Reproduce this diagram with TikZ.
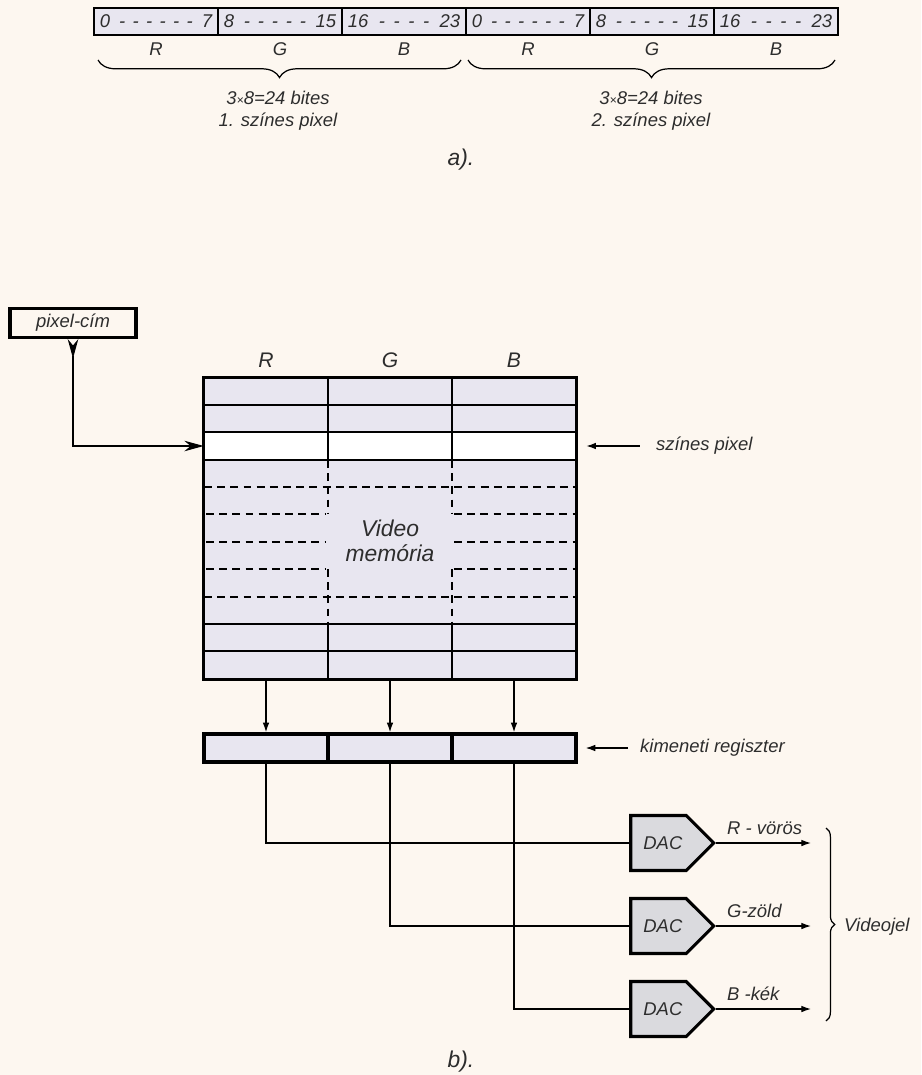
\documentclass[tikz,border=0pt]{standalone}
\usepackage{fontspec}
\setmainfont{Liberation Sans}
\usetikzlibrary{arrows.meta,positioning,shapes.symbols,decorations.pathreplacing,calc}
\definecolor{paperbg}{RGB}{253,247,240}
\definecolor{cellfill}{RGB}{232,230,240}
\definecolor{dacfill}{RGB}{218,218,222}
\definecolor{txtgray}{RGB}{45,45,45}
\newcommand{\bitspan}[2]{\hbox to 2.25cm{#1\ \xleaders\hbox to 7.2pt{\hss-\hss}\hfill\ #2}}

\begin{document}
\begin{tikzpicture}[x=0.02cm, y=-0.02cm,
    every node/.style={font=\itshape\fontsize{10.5}{12.5}\selectfont, text=txtgray},
    bitcell/.style={draw, line width=1.3pt, fill=cellfill, minimum width=2.48cm, minimum height=0.54cm, inner sep=1pt},
    regcell/.style={draw, line width=2pt, fill=cellfill, minimum width=2.48cm, minimum height=0.56cm},
    memcol/.style={minimum width=2.48cm, minimum height=6.02cm, inner sep=0pt},
    dac/.style={signal, signal to=east, signal pointer angle=90, draw, line width=1.8pt, fill=dacfill,
                minimum width=1.66cm, minimum height=1.1cm, inner sep=1pt},
    gridline/.style={line width=1pt},
    dashline/.style={line width=1pt, dash pattern=on 4.5pt off 3pt},
    wire/.style={line width=0.7pt},
    arr/.style={line width=0.7pt, -{Latex[length=5.5pt,width=3.8pt]}},
    bigtext/.style={font=\itshape\fontsize{13}{14}\selectfont}]
  \fill[paperbg] (0,0) rectangle (921,1075);
  \useasboundingbox (0,0) rectangle (921,1075);

  % a) ket pixel bitjei
  \node[bitcell] (c1) at (156,21.5) {\bitspan{0}{7}};
  \node[bitcell] (c2) at (280,21.5) {\bitspan{8}{15}};
  \node[bitcell] (c3) at (404,21.5) {\bitspan{16}{23}};
  \node[bitcell] (c4) at (528,21.5) {\bitspan{0}{7}};
  \node[bitcell] (c5) at (652,21.5) {\bitspan{8}{15}};
  \node[bitcell] (c6) at (776,21.5) {\bitspan{16}{23}};
  \foreach \n/\l in {1/R,2/G,3/B,4/R,5/G,6/B}
    \node[below=0pt of c\n] (l\n) {\l};

  \draw[wire,decorate,decoration={brace,mirror,amplitude=10pt}] (98,60) -- (461,60);
  \draw[wire,decorate,decoration={brace,mirror,amplitude=10pt}] (468,60) -- (835,60);
  \node[align=center] (bits1) at (278,111) {3{\scriptsize ×}8=24 bites\\1. színes pixel};
  \node[align=center] (bits2) at (651,111) {3{\scriptsize ×}8=24 bites\\2. színes pixel};
  \node[bigtext] (capa) at (461,160) {a).};

  % b) video memoria
  \node[draw, line width=1.8pt, minimum width=2.52cm, minimum height=0.52cm] (pixcim) at (73,323) {pixel-cím};

  \node[memcol, fill=cellfill] (memR) at (266,528.5) {};
  \node[memcol, fill=cellfill] (memG) at (390,528.5) {};
  \node[memcol, fill=cellfill] (memB) at (514,528.5) {};
  \node[minimum width=7.44cm, minimum height=0.56cm, inner sep=0pt, fill=white] (selrow) at (390,446) {};
  \node[font=\itshape\fontsize{12}{14}\selectfont] (hR) at (266,360) {R};
  \node[font=\itshape\fontsize{12}{14}\selectfont] (hG) at (390,360) {G};
  \node[font=\itshape\fontsize{12}{14}\selectfont] (hB) at (514,360) {B};

  \foreach \y in {405,432,460,624,651}
    \draw[gridline] (204,\y) -- (576,\y);
  \foreach \y in {487,597}
    \draw[dashline] (204,\y) -- (576,\y);
  \foreach \y in {514,542,569} {
    \draw[dashline] (206,\y) -- (326,\y);
    \draw[dashline] (454,\y) -- (576,\y);
  }
  \foreach \x in {328,452} {
    \draw[gridline] (\x,378) -- (\x,460);
    \draw[gridline] (\x,624) -- (\x,679);
    \draw[dashline] (\x,460) -- (\x,514);
    \draw[dashline] (\x,569) -- (\x,624);
  }
  \draw[line width=2pt] (memR.north west) rectangle (memB.south east);
  \node[bigtext, align=center] (vmem) at (390,541) {Video\\memória};

  \draw[wire, {Stealth[reversed,length=11pt,width=6pt]}-{Stealth[length=11pt,width=6pt]}] (pixcim.south) |- (selrow.west);
  \node[anchor=west] (sellbl) at (650,446) {színes pixel};
  \draw[arr, shorten <=5.7pt, shorten >=5.7pt] (sellbl.west) -- (sellbl.west -| selrow.east);

  % kimeneti regiszter
  \node[regcell] (regR) at (266,748) {};
  \node[regcell] (regG) at (390,748) {};
  \node[regcell] (regB) at (514,748) {};
  \foreach \c in {R,G,B}
    \draw[arr] (mem\c.south) -- (reg\c.north);
  \node[anchor=west] (reglbl) at (634,748) {kimeneti regiszter};
  \draw[arr, shorten <=3.4pt, shorten >=4.5pt] (reglbl.west) -- (reglbl.west -| regB.east);

  % DAC-ok
  \node[dac] (dac1) at (658.5,843) {\hspace{5pt}DAC};
  \node[dac] (dac2) at (658.5,926) {\hspace{5pt}DAC};
  \node[dac] (dac3) at (658.5,1009) {\hspace{5pt}DAC};
  \draw[wire] (regR.south) |- (dac1.west);
  \draw[wire] (regG.south) |- (dac2.west);
  \draw[wire] (regB.south) |- (dac3.west);

  \coordinate (out1) at (811,843);
  \coordinate (out2) at (811,926);
  \coordinate (out3) at (811,1009);
  \draw[arr] (dac1.east) -- (out1) node[pos=0.05, anchor=south west, yshift=1pt] {R - vörös};
  \draw[arr] (dac2.east) -- (out2) node[pos=0.05, anchor=south west, yshift=1pt] {G-zöld};
  \draw[arr] (dac3.east) -- (out3) node[pos=0.05, anchor=south west, yshift=1pt] {B -kék};

  \draw[wire,decorate,decoration={brace,amplitude=5pt}] (826,828) -- (826,1021);
  \node[anchor=west] (vjel) at (838,927) {Videojel};
  \node[bigtext] (capb) at (461,1062) {b).};
\end{tikzpicture}
\end{document}
